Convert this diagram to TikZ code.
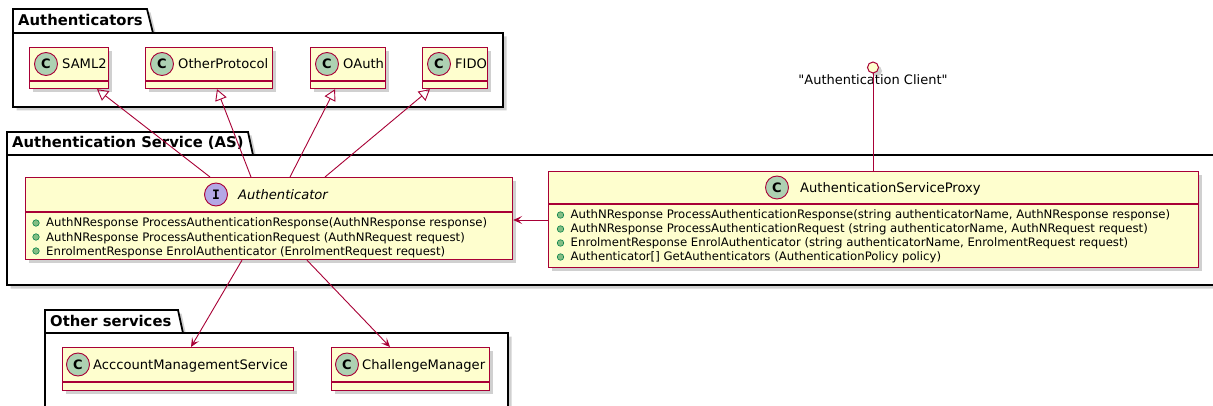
\documentclass[tikz,border=0pt]{standalone}
\usepackage{fontspec}
\setmainfont{DejaVu Sans}
\setmonofont{DejaVu Sans Mono}
% same face without the TeX quote mapping, for straight quotes
\newfontfamily\straightfont{DejaVu Sans}
\usetikzlibrary{arrows.meta,shadows,calc}

\definecolor{umlfill}{HTML}{FEFECE}
\definecolor{umlline}{HTML}{A80036}
\definecolor{cfill}{HTML}{ADD1B2}
\definecolor{ifill}{HTML}{B4A7E5}
\definecolor{pubfill}{HTML}{84BE84}
\definecolor{publine}{HTML}{038048}

% package outline: x0, tab top, tab right (top), tab right (bottom), body top, x1, y1
\newcommand\umlpackage[7]{%
  \path[pkg] (#1,#2) -- (#3,#2) -- (#4,#5) -- (#6,#5) -- (#6,#7) -- (#1,#7) -- cycle;
  \draw[line width=1.8pt] (#1,#5) -- (#4,#5);
}

\tikzset{
  shade3/.style={drop shadow={shadow xshift=3.5pt, shadow yshift=-3.5pt, opacity=0.3, fill=black!60}},
  pkg/.style={draw=black, line width=1.8pt, fill=white, line join=miter, shade3},
  pkgtitle/.style={anchor=base west, inner sep=0, font=\bfseries\fontsize{14.8}{15}\selectfont},
  cls/.style={rectangle, draw=umlline, fill=umlfill, line width=1.2pt, inner sep=0, anchor=north west, shade3},
  sepline/.style={draw=umlline, line width=1.1pt},
  badge/.style={circle, draw=umlline, line width=0.9pt, minimum size=23pt, inner sep=0, fill=cfill,
    font=\bfseries\fontsize{13}{13}\selectfont},
  ibadge/.style={badge, fill=ifill, font=\ttfamily\bfseries\fontsize{13}{13}\selectfont},
  cname/.style={anchor=base west, inner sep=0, font=\fontsize{13.1}{14}\selectfont},
  member/.style={anchor=base west, inner sep=0, font=\fontsize{11.7}{12}\selectfont},
  pub/.style={circle, draw=publine, fill=pubfill, minimum size=6.5pt, inner sep=0, line width=0.6pt},
  link/.style={draw=umlline, line width=0.9pt},
  inherit/.style={link, -{Triangle[open, length=11pt, width=12pt]}},
  assoc/.style={link, -{Stealth[length=9pt, width=8pt, inset=4pt]}},
  lollipop/.style={circle, draw=umlline, fill=umlfill, line width=1pt, minimum size=11pt, inner sep=0, shade3},
  plain/.style={anchor=base, inner sep=0, font=\straightfont\fontsize{13}{14}\selectfont},
}

\begin{document}
\begin{tikzpicture}[x=1pt, y=-1pt]
\clip (0,0) rectangle (1213,406);
\fill[white] (0,0) rectangle (1213,406);

% packages
\umlpackage{13}{9}{147}{153}{33}{503}{107}
\node[pkgtitle] (pkgauth) at (18,26) {Authenticators};
\umlpackage{7}{132}{248}{253}{155}{1230}{285}
\node[pkgtitle] (pkgas) at (12,148) {Authentication Service (AS)};
\umlpackage{45}{310}{178}{183}{333}{508}{450}
\node[pkgtitle] (pkgother) at (50,326) {Other services};

% authenticator implementations
\node[cls, minimum width=79, minimum height=41] (saml) at (29,47) {};
\draw[sepline] ($(saml.north west)+(0,34)$) -- ($(saml.north east)+(0,34)$);
\node[badge] (samlc) at ($(saml.north west)+(17,17)$) {C};
\node[cname] (samln) at ($(saml.north west)+(33,21.7)$) {SAML2};

\node[cls, minimum width=127, minimum height=41] (other) at (145,47) {};
\draw[sepline] ($(other.north west)+(0,34)$) -- ($(other.north east)+(0,34)$);
\node[badge] (otherc) at ($(other.north west)+(17,17)$) {C};
\node[cname] (othern) at ($(other.north west)+(33,21.7)$) {OtherProtocol};

\node[cls, minimum width=75, minimum height=41] (oauth) at (310,47) {};
\draw[sepline] ($(oauth.north west)+(0,34)$) -- ($(oauth.north east)+(0,34)$);
\node[badge] (oauthc) at ($(oauth.north west)+(17,17)$) {C};
\node[cname] (oauthn) at ($(oauth.north west)+(33,21.7)$) {OAuth};

\node[cls, minimum width=65, minimum height=41] (fido) at (422,47) {};
\draw[sepline] ($(fido.north west)+(0,34)$) -- ($(fido.north east)+(0,34)$);
\node[badge] (fidoc) at ($(fido.north west)+(17,17)$) {C};
\node[cname] (fidon) at ($(fido.north west)+(33,21.7)$) {FIDO};

% Authenticator interface
\node[cls, minimum width=487, minimum height=82] (auth) at (25,177) {};
\draw[sepline] ($(auth.north west)+(0,35)$) -- ($(auth.north east)+(0,35)$);
\node[ibadge] (authi) at (216,194.5) {I};
\node[cname, font=\itshape\fontsize{13.1}{14}\selectfont] (authn) at (238,199.2) {Authenticator};
\node[pub] (am1) at (36,223) {};
\node[member] (at1) at (46,227) {AuthNResponse ProcessAuthenticationResponse(AuthNResponse response)};
\node[pub] (am2) at (36,237) {};
\node[member] (at2) at (46,241) {AuthNResponse ProcessAuthenticationRequest (AuthNRequest request)};
\node[pub] (am3) at (36,251) {};
\node[member] (at3) at (46,255) {EnrolmentResponse EnrolAuthenticator (EnrolmentRequest request)};

% service proxy
\node[cls, minimum width=650, minimum height=96] (proxy) at (548,171) {};
\draw[sepline] ($(proxy.north west)+(0,33)$) -- ($(proxy.north east)+(0,33)$);
\node[badge] (proxyc) at (777,187.5) {C};
\node[cname] (proxyn) at (800,192.2) {AuthenticationServiceProxy};
\node[pub] (pm1) at (560.5,215) {};
\node[member] (pt1) at (570.5,219) {AuthNResponse ProcessAuthenticationResponse(string authenticatorName, AuthNResponse response)};
\node[pub] (pm2) at (560.5,229) {};
\node[member] (pt2) at (570.5,233) {AuthNResponse ProcessAuthenticationRequest (string authenticatorName, AuthNRequest request)};
\node[pub] (pm3) at (560.5,243) {};
\node[member] (pt3) at (570.5,247) {EnrolmentResponse EnrolAuthenticator (string authenticatorName, EnrolmentRequest request)};
\node[pub] (pm4) at (560.5,257) {};
\node[member] (pt4) at (570.5,261) {Authenticator[] GetAuthenticators (AuthenticationPolicy policy)};

% other services
\node[cls, minimum width=231, minimum height=43] (ams) at (62,347) {};
\draw[sepline] ($(ams.north west)+(0,35)$) -- ($(ams.north east)+(0,35)$);
\node[badge] (amsc) at ($(ams.north west)+(16,17.5)$) {C};
\node[cname] (amsn) at ($(ams.north west)+(31,22.2)$) {AcccountManagementService};

\node[cls, minimum width=158, minimum height=43] (chal) at (331,347) {};
\draw[sepline] ($(chal.north west)+(0,35)$) -- ($(chal.north east)+(0,35)$);
\node[badge] (chalc) at ($(chal.north west)+(16,17.5)$) {C};
\node[cname] (chaln) at ($(chal.north west)+(31,22.2)$) {ChallengeManager};

% client interface
\node[lollipop] (client) at (873,67.5) {};
\node[plain] (clientn) at (873,85) {"Authentication Client"};

% connectors
\draw[inherit] ($(auth.north west)+(185,0)$) -- ($(saml.south west)+(68,0)$);
\draw[inherit] ($(auth.north west)+(226,0)$) -- ($(other.south west)+(72,0)$);
\draw[inherit] ($(auth.north west)+(265,0)$) -- ($(oauth.south west)+(25,0)$);
\draw[inherit] ($(auth.north west)+(300,0)$) -- ($(fido.south west)+(8,0)$);
\draw[assoc] ($(auth.south west)+(217,0)$) -- ($(ams.north west)+(129,0)$);
\draw[assoc] ($(auth.south west)+(282,0)$) -- ($(chal.north west)+(59,0)$);
\draw[assoc] ($(proxy.north west)+(0,49)$) -- ($(auth.north east)+(0,43)$);
\draw[link] (client.south) -- (proxy.north -| client.south);
\end{tikzpicture}
\end{document}
